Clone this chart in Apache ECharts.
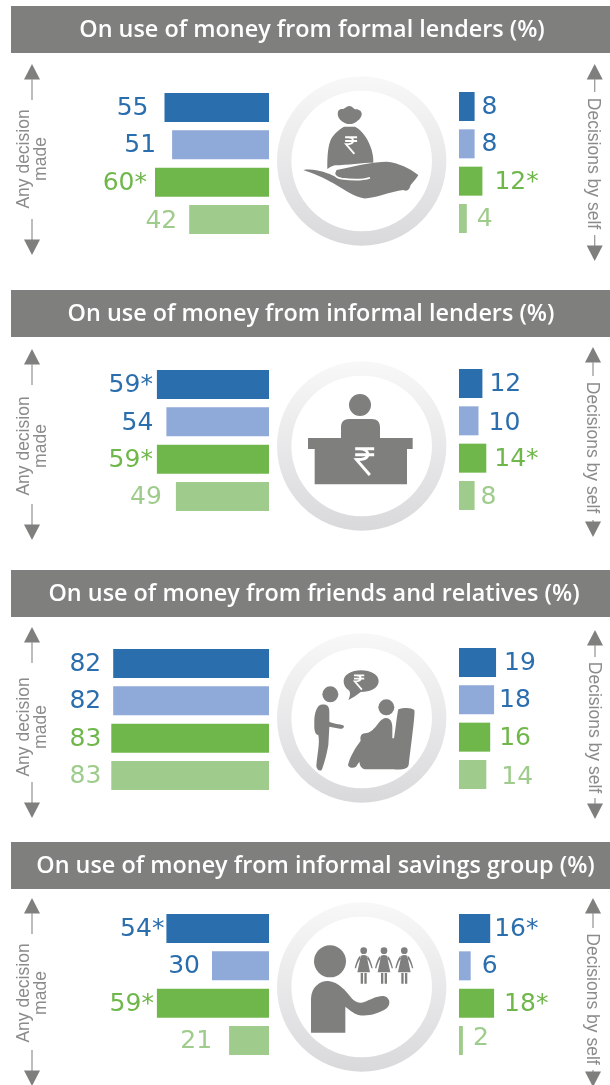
<!DOCTYPE html>
<html><head><meta charset="utf-8">
<style>html,body{margin:0;padding:0;background:#fff}#c{width:610px;height:1085px}</style>
<script src="https://cdn.jsdelivr.net/npm/echarts@6/dist/echarts.min.js"></script>
</head><body><div id="c"></div>
<script>
// ---- data ----
const panelTitles = [
  'On use of money from formal lenders (%)',
  'On use of money from informal lenders (%)',
  'On use of money from friends and relatives (%)',
  'On use of money from informal savings group (%)'
];
const barNames = ['Series A', 'Series B', 'Series C', 'Series D'];
const anyDecision1 = [55, 51, 60, 42];
const anyDecision2 = [59, 54, 59, 49];
const anyDecision3 = [82, 82, 83, 83];
const anyDecision4 = [54, 30, 59, 21];
const bySelf1 = [8, 8, 12, 4];
const bySelf2 = [12, 10, 14, 8];
const bySelf3 = [19, 18, 16, 14];
const bySelf4 = [16, 6, 18, 2];
const anyMarks1 = ['', '', '*', ''];
const anyMarks2 = ['*', '', '*', ''];
const anyMarks3 = ['', '', '', ''];
const anyMarks4 = ['*', '', '*', ''];
const selfMarks1 = ['', '', '*', ''];
const selfMarks2 = ['', '', '*', ''];
const selfMarks3 = ['', '', '', ''];
const selfMarks4 = ['*', '', '*', ''];
const leftAxisLabel = ['Any decision', 'made'];
const rightAxisLabel = 'Decisions by self';

// ---- layout & style ----
const anyValues = [anyDecision1, anyDecision2, anyDecision3, anyDecision4];
const selfValues = [bySelf1, bySelf2, bySelf3, bySelf4];
const anyMarks = [anyMarks1, anyMarks2, anyMarks3, anyMarks4];
const selfMarks = [selfMarks1, selfMarks2, selfMarks3, selfMarks4];
const barColors = ['#2b6ead', '#8fa9d9', '#6fb74b', '#9fcc8c'];
const textColors = ['#2b6ead', '#2b6ead', '#6fb74b', '#9fcc8c'];
const GRAY = '#7f7f7d';
const FONT = '"Liberation Sans", Arial, sans-serif';
const NUM_FONT = '"DejaVu Sans", sans-serif';
const leftTops = [93, 370, 649, 914];
const rightTops = [92, 369, 648, 914];
const leftGaps = [[16,16,8,12],[4,13,4,14],[12,12,10,10],[2,12,3,17]];
const rightGaps = [[7,7,12,10],[7,10,8,6],[8,5,9,15],[4,11,10,10]];
const leftNudge = [[1,1,1,2],[1,2,1,1],[1,1,1,1],[1,1,1,1]];
const rightNudge = [[1,1,1,1],[1,3,1,2],[1,1,1,3],[1,1,1,-2]];
const headerTops = [6, 290, 570, 842];
const titleCenters = [312, 311, 314, 315.5];
const ringCenters = [161, 446, 718, 987];
const RING_X = 361.7;
const leftArrows = [[64,100,219,255],[349,385,504,540],[627,663,782,818],[898,934,1050,1086]];
const leftTextY = [159, 446, 727, 993];
const rightArrows = [
  {x:594.7, top:64, lineTop:92, lineBot:235, bot:261, text:163.5},
  {x:593, top:347, lineTop:376, lineBot:520, bot:537, text:447.5},
  {x:595, top:630, lineTop:657, lineBot:798, bot:819, text:727.5},
  {x:593, top:898, lineTop:928, lineBot:1070, bot:1087, text:999}
];
const BAND = 37.33, BAR_H = 29;

// ---- register icon shapes ----
const shapes = {
  bagKnot: 'M238 318 C228 318 226 328 215 327 C204 327 201 340 205 350 C210 362 222 368 232 372 L245 372 C258 368 272 358 275 345 C277 335 268 328 258 328 C250 328 248 318 238 318 Z',
  bagBody: 'M222 380 L255 380 C280 392 298 425 305 450 C310 468 310 480 310 488 C280 488 230 495 195 496 C185 498 175 505 172 507 C172 480 172 450 180 425 C187 405 205 390 222 380 Z',
  hand: 'M100 510 C125 518 165 535 190 550 C220 567 250 590 280 595 C310 597 360 575 400 570 C412 575 418 570 422 555 C430 545 440 535 445 525 C420 505 385 488 350 485 C310 485 260 497 200 510 C192 517 192 525 197 530 C170 518 135 504 100 510 Z',
  handCrease: 'M197 511 C188 522 196 533 215 536 C245 540 280 540 300 533',
  rupee: 'M-28 -37 H29 M-28 -19 H29 M-14 -37 C14 -37 20 -8 -8 -5 L-24 -4 L16 42',
  desk: 'M114 294 H213 V262 C213 245 222 237 238 237 H305 C321 237 330 245 330 262 V294 H428 V327 H411 V433 H134 V327 H114 Z',
  deskHead: 'M237 195 a33 33 0 1 0 66 0 a33 33 0 1 0 -66 0 Z',
  bubble: 'M235 240 C240 228 242 220 238 212 C225 204 221 193 221 183 C221 164 245 151 273 151 C302 151 326 164 326 183 C326 205 300 216 272 216 C260 226 248 234 235 240 Z',
  standHead: 'M157 223 a24 24 0 1 0 48 0 a24 24 0 1 0 -48 0 Z',
  standBody: 'M150 255 C170 250 178 258 178 275 L178 305 C190 312 210 312 220 316 C225 322 218 328 210 326 L178 320 L175 375 C170 405 160 440 155 450 C148 455 140 448 139 438 C142 400 150 370 145 345 C135 345 132 330 133 310 C132 285 138 262 150 255 Z',
  sitHead: 'M325 262 a24 24 0 1 0 48 0 a24 24 0 1 0 -48 0 Z',
  sitBody: 'M345 294 C360 292 368 305 367 325 L367 355 L372 355 C378 320 380 290 385 268 C400 262 425 262 433 270 C436 280 425 360 416 435 C412 448 395 450 370 448 L285 448 C275 445 270 440 268 425 L258 440 C250 446 236 444 234 435 C240 410 255 385 272 362 C270 350 272 342 285 340 C300 340 315 325 325 310 C332 300 338 296 345 294 Z',
  speaker: 'M132 229 a48 48 0 1 0 96 0 a48 48 0 1 0 -96 0 Z',
  speakerBody: 'M123 443 L123 340 C125 305 150 287 175 288 C205 290 230 320 245 340 C255 350 265 358 285 350 C300 345 320 332 340 333 C358 335 365 355 350 370 C325 388 290 395 265 390 C250 385 235 372 226 365 L226 443 Z',
  woman: 'M-10 197 a10 10 0 1 0 20 0 a10 10 0 1 0 -20 0 Z M-9 212 C-4 209 4 209 9 212 L12 228 L19 262 L-19 262 L-12 228 Z M-11 212 C-18 218 -24 235 -27 250 L-23 250 C-20 238 -16 228 -11 222 Z M11 212 C18 218 24 235 27 250 L23 250 C20 238 16 228 11 222 Z M-9 264 H-2 V296 H-9 Z M2 264 H9 V296 H2 Z'
};
Object.keys(shapes).forEach(k => echarts.graphic.registerShape(k, echarts.graphic.extendPath(shapes[k], {})));

function icon(type, ox, oy, fill, extra) {
  return Object.assign({type, x: ox, y: oy, scaleX: 1/3, scaleY: 1/3, silent: true, style: {fill: fill || GRAY}}, extra || {});
}
function rupee(cx, cy, s, w) {
  return {type: 'rupee', x: cx, y: cy, scaleX: s, scaleY: s, silent: true, style: {fill: 'none', stroke: '#fff', lineWidth: w || 9}};
}
function triangle(x, apex, base) {
  return {type: 'polygon', silent: true, shape: {points: [[x, apex], [x + 8, base], [x - 8, base]]}, style: {fill: GRAY}};
}
function vline(x, y1, y2) {
  return {type: 'line', silent: true, shape: {x1: x, y1, x2: x, y2}, style: {stroke: '#9a9a98', lineWidth: 1.3}};
}
function vtext(text, x, y, rot) {
  return {type: 'text', x, y, rotation: rot, silent: true,
    style: {text, fill: '#8b8b8b', fontSize: 17.5, fontFamily: FONT, align: 'center', verticalAlign: 'middle'}};
}

const graphics = [];
const titles = [];
const grids = [], xAxes = [], yAxes = [], series = [];

panelTitles.forEach((t, i) => {
  graphics.push({type: 'rect', silent: true, z: -1, shape: {x: 11, y: headerTops[i], width: 599, height: 47}, style: {fill: GRAY}});
  titles.push({text: t, left: titleCenters[i], top: headerTops[i] + 24.5, textAlign: 'center', textVerticalAlign: 'middle', padding: 0,
    textStyle: {color: '#fff', fontFamily: '"Open Sans", sans-serif', fontWeight: 600, fontSize: 23.4}});
  // ring
  graphics.push({type: 'ring', silent: true, shape: {cx: RING_X, cy: ringCenters[i], r: 84.7, r0: 70.3},
    style: {fill: {type: 'linear', x: 0, y: 0, x2: 0, y2: 1, colorStops: [{offset: 0, color: '#f8f8f8'}, {offset: 1, color: '#d9d9dc'}]}}});
  // left arrow
  const a = leftArrows[i];
  graphics.push(triangle(32, a[0], a[0] + 15.5), vline(32, a[0] + 15, a[1]), vline(32, a[2], a[3] - 15), triangle(32, a[3], a[3] - 15.5));
  graphics.push(vtext(leftAxisLabel[0], 24, leftTextY[i], Math.PI / 2), vtext(leftAxisLabel[1], 41, leftTextY[i], Math.PI / 2));
  // right arrow
  const r = rightArrows[i];
  graphics.push(triangle(r.x, r.top, r.top + 15.5), vline(r.x, r.top + 15, r.lineTop), vline(r.x, r.lineBot, r.bot - 15), triangle(r.x, r.bot, r.bot - 15.5));
  graphics.push(vtext(rightAxisLabel, r.x - 1.5, r.text, -Math.PI / 2));

  // bars
  const gap = (BAND - BAR_H) / 2;
  grids.push({left: 79, width: 190, top: leftTops[i] - gap, height: BAND * 4});
  grids.push({left: 459, width: 117, top: rightTops[i] - gap, height: BAND * 4});
  [0, 1].forEach(side => {
    const gi = i * 2 + side;
    xAxes.push({type: 'value', gridIndex: gi, min: 0, max: side === 0 ? 100 : 60, inverse: side === 0, show: false});
    yAxes.push({type: 'category', gridIndex: gi, data: barNames, inverse: true, show: false});
    const vals = side === 0 ? anyValues[i] : selfValues[i];
    const marks = side === 0 ? anyMarks[i] : selfMarks[i];
    const gaps = side === 0 ? leftGaps[i] : rightGaps[i];
    const nudges = side === 0 ? leftNudge[i] : rightNudge[i];
    series.push({
      type: 'bar', xAxisIndex: gi, yAxisIndex: gi, barWidth: BAR_H, silent: true, animation: false,
      name: (side === 0 ? 'Any decision made ' : 'Decisions by self ') + (i + 1),
      data: vals.map((v, j) => ({
        value: v,
        itemStyle: {color: barColors[j]},
        label: {
          show: true, position: side === 0 ? 'left' : 'right', distance: gaps[j], offset: [0, nudges[j]],
          formatter: String(v) + marks[j], color: textColors[j], fontSize: 25, fontFamily: NUM_FONT
        }
      }))
    });
  });
});

// icons
graphics.push(
  icon('bagKnot', 270, 0), icon('bagBody', 270, 0), icon('hand', 270, 0),
  {type: 'handCrease', x: 270, y: 0, scaleX: 1/3, scaleY: 1/3, silent: true, style: {fill: 'none', stroke: '#fff', lineWidth: 5}},
  rupee(351, 145, 0.21),
  icon('desk', 270, 340), icon('deskHead', 270, 340),
  rupee(364.5, 461, 1/3),
  icon('bubble', 270, 620), rupee(359, 682, 0.18, 10),
  icon('standHead', 270, 620), icon('standBody', 270, 620), icon('sitHead', 270, 620), icon('sitBody', 270, 620),
  icon('speaker', 270, 885), icon('speakerBody', 270, 885),
  icon('woman', 363.7, 885), icon('woman', 384, 885), icon('woman', 404.3, 885)
);

const chart = echarts.init(document.getElementById('c'), null, {renderer: 'canvas'});
chart.setOption({
  animation: false,
  backgroundColor: '#fff',
  title: titles,
  grid: grids,
  xAxis: xAxes,
  yAxis: yAxes,
  series,
  graphic: {elements: graphics}
});
</script></body></html>
